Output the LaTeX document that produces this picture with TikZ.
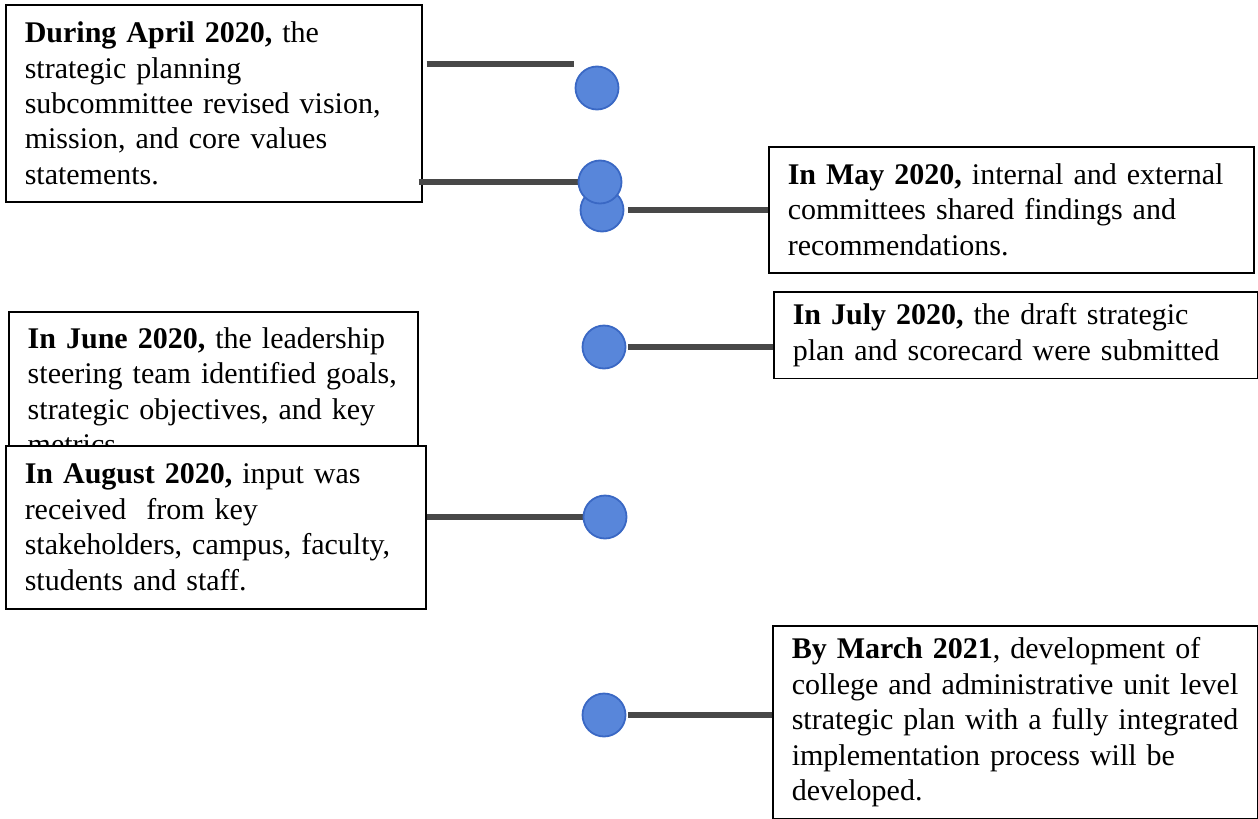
\documentclass[tikz,border=0pt]{standalone}
\usepackage{fontspec}
\setmainfont{Liberation Serif}
\definecolor{dotfill}{RGB}{88,134,218}
\definecolor{dotline}{RGB}{58,104,196}
\definecolor{linkgray}{RGB}{72,72,72}
\begin{document}
\begin{tikzpicture} [x = 0.5pt, y = -0.5pt,
	box/.style = {draw, line width = 0.75pt, fill = white, anchor = north west, align = left, inner xsep = 9.5pt, inner ysep = 6pt, font = \fontsize{15}{17.7}\selectfont},
	dot/.style = {circle, draw = dotline, fill = dotfill, line width = 0.9pt, minimum size = 21.5pt, inner sep = 0pt},
	link/.style = {draw = linkgray, line width = 3pt}]
	\useasboundingbox (0, 0) rectangle (1258, 819) ;
	
	% boxes on the left
	\node [box, text width = 189pt, minimum height = 98.5pt] (april) at (5, 4) {\textbf{During April 2020,} the\\strategic planning\\subcommittee revised vision,\\mission, and core values\\statements.} ;
	\node [box, text width = 185.5pt, inner ysep = 8pt] (june) at (8, 311) {\textbf{In June 2020,} the leadership\\steering team identified goals,\\strategic objectives, and key\\metrics.} ;
	\node [box, text width = 191pt, minimum height = 81.5pt] (august) at (5, 445) {\textbf{In August 2020,} input was\\received\ \ from key\\stakeholders, campus, faculty,\\students and staff.} ;
	
	% boxes on the right
	\node [box, text width = 223.5pt, minimum height = 63pt] (may) at (768, 146) {\textbf{In May 2020,} internal and external\\committees shared findings and\\recommendations.} ;
	\node [box, text width = 223pt, minimum height = 43pt] (july) at (773, 291) {\textbf{In July 2020,} the draft strategic\\plan and scorecard were submitted} ;
	\node [box, text width = 223.5pt, minimum height = 96pt] (march) at (772, 625) {\textbf{By March 2021}, development of\\college and administrative unit level\\strategic plan with a fully integrated\\implementation process will be\\developed.} ;
	
	% dots
	\coordinate (d1) at (597, 88) ;
	\coordinate (d2) at (600, 182) ;
	\coordinate (d3) at (602, 210) ;
	\coordinate (d4) at (604, 347) ;
	\coordinate (d5) at (605, 517) ;
	\coordinate (d6) at (604, 715) ;
	\coordinate (stub) at (574, 64) ;
	
	% links
	\draw [link] ([xshift = 2pt] april.east |- stub) -- (stub) ;
	\draw [link] ([xshift = -2pt] april.east |- d2) -- (d2) ;
	\draw [link] ([xshift = 13pt] d3) -- (may.west |- d3) ;
	\draw [link] ([xshift = 12pt] d4) -- (july.west |- d4) ;
	\draw [link] (august.east |- d5) -- (d5) ;
	\draw [link] ([xshift = 12pt] d6) -- (march.west |- d6) ;
	
	\foreach \d in {d1, d3, d2, d4, d5, d6}
		\node [dot] at (\d) {} ;
	
\end{tikzpicture}
\end{document}
